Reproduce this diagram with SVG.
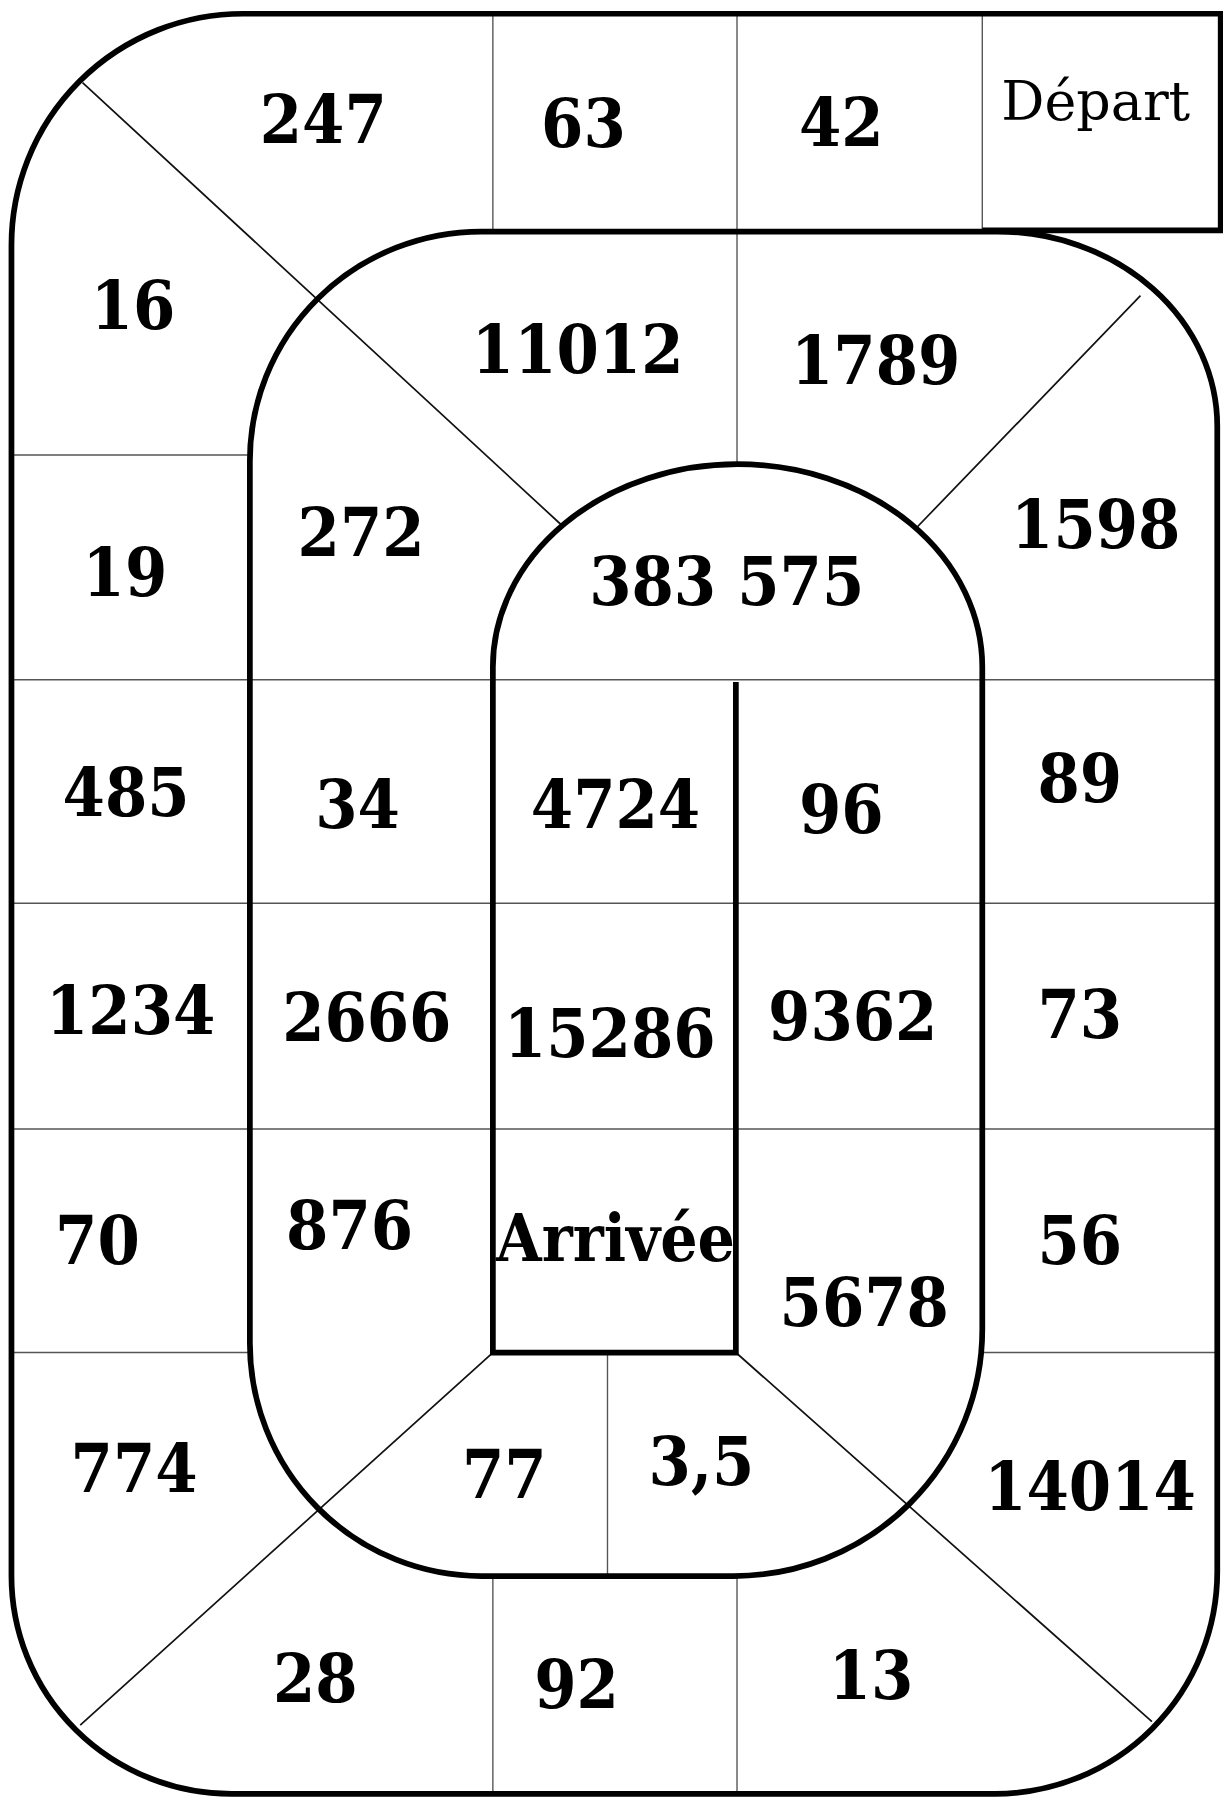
<svg xmlns="http://www.w3.org/2000/svg" width="1223" height="1798" viewBox="0 0 1223 1798">
<style>
.thick{fill:none;stroke:#000;stroke-width:5;stroke-linejoin:miter}
.thin{fill:none;stroke:#555;stroke-width:1.2}
.diag{fill:none;stroke:#111;stroke-width:1.5}
.n{font-family:"DejaVu Serif Condensed","DejaVu Serif","Liberation Serif",serif;font-weight:bold;font-size:59px;fill:#000;text-anchor:middle}
.lbl{font-family:"DejaVu Serif","Liberation Serif",serif;font-size:47px;fill:#000;text-anchor:middle}
.lblb{font-family:"DejaVu Serif Condensed","DejaVu Serif","Liberation Serif",serif;font-size:57px;font-weight:bold;fill:#000;text-anchor:middle}
</style>
<rect width="1223" height="1798" fill="#fff"/>
<g transform="scale(1.1462)">
<g id="connectors">
<path class="thin" d="M430,12 V200 M643,12 V200 M857,12 V200 M643,200 V405 M10,397 H218 M10,593 H1062 M10,788 H1062 M10,985 H1062 M10,1180 H218 M857,1180 H1062 M530,1180 V1375 M430,1375 V1565 M643,1375 V1565"/>
<path class="diag" d="M72,72 L492,460 M800,460 L995,258 M430,1180 L70,1505 M642,1180 L1005,1502"/>
<path class="thick" d="M1065,200 L1065,12 L212,12 A202,202 0 0 0 10,214 L10,1375 A192,190 0 0 0 202,1565 L868,1565 A194,194 0 0 0 1062,1371 L1062,372 A192,170 0 0 0 870,202 L420,202 A202,200 0 0 0 218,402 L218,1172 A202,203 0 0 0 420,1375 L640,1375 A217,215 0 0 0 857,1160 L857,582 A213.5,177 0 0 0 430,582 L430,1180 L642,1180 L642,595 M857,201 H1067"/>
</g>
<g id="c-depart"><text class="lbl" x="956" y="105">Départ</text></g>
<g id="c-42"><text class="n" x="734" y="127">42</text></g>
<g id="c-63"><text class="n" x="509" y="128">63</text></g>
<g id="c-247"><text class="n" x="282" y="125">247</text></g>
<g id="c-16"><text class="n" x="116" y="287">16</text></g>
<g id="c-19"><text class="n" x="109" y="520">19</text></g>
<g id="c-485"><text class="n" x="110" y="712">485</text></g>
<g id="c-1234"><text class="n" x="114" y="902">1234</text></g>
<g id="c-70"><text class="n" x="85" y="1103">70</text></g>
<g id="c-774"><text class="n" x="117" y="1302">774</text></g>
<g id="c-28"><text class="n" x="275" y="1485">28</text></g>
<g id="c-92"><text class="n" x="503" y="1490">92</text></g>
<g id="c-13"><text class="n" x="760" y="1482">13</text></g>
<g id="c-14014"><text class="n" x="951" y="1317">14014</text></g>
<g id="c-56"><text class="n" x="942" y="1103">56</text></g>
<g id="c-73"><text class="n" x="942" y="906">73</text></g>
<g id="c-89"><text class="n" x="942" y="700">89</text></g>
<g id="c-1598"><text class="n" x="956" y="478">1598</text></g>
<g id="c-1789"><text class="n" x="764" y="335">1789</text></g>
<g id="c-11012"><text class="n" x="504" y="325">11012</text></g>
<g id="c-272"><text class="n" x="315" y="485">272</text></g>
<g id="c-34"><text class="n" x="312" y="722">34</text></g>
<g id="c-2666"><text class="n" x="320" y="908">2666</text></g>
<g id="c-876"><text class="n" x="305" y="1090">876</text></g>
<g id="c-77"><text class="n" x="440" y="1307">77</text></g>
<g id="c-3-5"><text class="n" x="612" y="1296">3,5</text></g>
<g id="c-5678"><text class="n" x="754" y="1157">5678</text></g>
<g id="c-9362"><text class="n" x="744" y="907">9362</text></g>
<g id="c-96"><text class="n" x="734" y="727">96</text></g>
<g id="c-383575"><text class="n" x="634" y="528">383 575</text></g>
<g id="c-4724"><text class="n" x="537" y="722">4724</text></g>
<g id="c-15286"><text class="n" x="532" y="922">15286</text></g>
<g id="c-arrivee"><text class="lblb" x="537" y="1100">Arrivée</text></g>
</g>
</svg>
